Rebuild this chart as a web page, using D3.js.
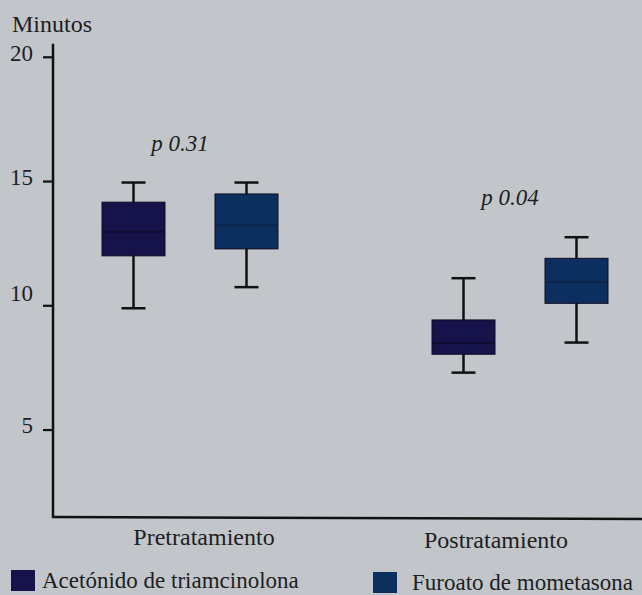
<!DOCTYPE html>
<html>
<head>
<meta charset="utf-8">
<script src="https://cdn.jsdelivr.net/npm/d3@7"></script>
</head>
<body style="margin:0; background:#c2c6cb">
<script>
// Data
const groups = ['Pretratamiento', 'Postratamiento'];
const series = ['Acetónido de triamcinolona', 'Furoato de mometasona'];
const colors = ['#16134a', '#0c2f5f'];
const medianColors = ['#0e0c33', '#0a2549'];
// [min, q1, median, q3, max] per group, per series
const acetonido = [[9.9, 12.01, 12.98, 14.17, 14.96], [7.31, 8.05, 8.5, 9.43, 11.11]];
const furoato = [[10.75, 12.29, 13.24, 14.5, 14.96], [8.52, 10.1, 10.96, 11.91, 12.76]];
const pValues = ['p 0.31', 'p 0.04'];
const yTicks = [5, 10, 15, 20];

// Constants
const width = 642;
const height = 595;
const labelShift = [14, -24];
const labelBaseline = [545, 548];

const svg = d3.select('body')
    .append('svg')
    .attr('width', width)
    .attr('height', height)
    .style('display', 'block');

// Serif text helper
function serifText(sel, size, italic) {
    return sel
        .style('font', `${italic ? 'italic ' : ''}${size}px "Liberation Serif", "Times New Roman", Tinos, serif`)
        .style('fill', '#1e1e1e');
}

// Scales
const y = d3.scaleLinear().domain([1.5, 20]).range([517, 57.3]);
const x = d3.scalePoint().domain(groups).range([190, 520]);
const xInner = d3.scaleBand().domain(series).range([-88, 88]).paddingInner(0.4425);

// Y axis
svg.append('line')
    .attr('x1', 53).attr('x2', 53)
    .attr('y1', y(20.55)).attr('y2', y(1.5) + 1)
    .attr('stroke', '#111').attr('stroke-width', 2.5);

const tick = svg.append('g').selectAll('g')
    .data(yTicks)
    .join('g')
    .attr('transform', d => `translate(0,${y(d)})`);
tick.append('line')
    .attr('x1', 43).attr('x2', 53)
    .attr('stroke', '#111').attr('stroke-width', 2.2);
serifText(tick.append('text'), 23)
    .attr('x', 33)
    .attr('dy', d => d === 10 ? '-0.2em' : '0.15em')
    .attr('text-anchor', 'end')
    .text(d => d);

serifText(svg.append('text'), 24)
    .attr('x', 12).attr('y', 32)
    .text('Minutos');

// X axis
svg.append('line')
    .attr('x1', 52).attr('x2', width)
    .attr('y1', y(1.5)).attr('y2', y(1.5) + 2)
    .attr('stroke', '#111').attr('stroke-width', 2.5);

serifText(svg.append('g').selectAll('text').data(groups).join('text'), 24)
    .attr('x', (d, i) => x(d) + labelShift[i])
    .attr('y', (d, i) => labelBaseline[i])
    .attr('text-anchor', 'middle')
    .text(d => d);

// Boxes
const boxes = [];
groups.forEach((g, gi) => {
    [acetonido, furoato].forEach((s, si) => {
        boxes.push({ group: g, series: series[si], si, stats: s[gi] });
    });
});

const box = svg.append('g').selectAll('g')
    .data(boxes)
    .join('g')
    .attr('transform', d => `translate(${x(d.group) + xInner(d.series)},0)`);

const bw = xInner.bandwidth();
const cx = bw / 2;

box.append('line')
    .attr('x1', cx).attr('x2', cx)
    .attr('y1', d => y(d.stats[0])).attr('y2', d => y(d.stats[4]))
    .attr('stroke', '#111').attr('stroke-width', 2.5);
box.selectAll('line.cap')
    .data(d => [d.stats[0], d.stats[4]])
    .join('line')
    .attr('class', 'cap')
    .attr('x1', cx - 12).attr('x2', cx + 12)
    .attr('y1', d => y(d)).attr('y2', d => y(d))
    .attr('stroke', '#111').attr('stroke-width', 2.5);
box.append('rect')
    .attr('x', 0)
    .attr('width', bw)
    .attr('y', d => y(d.stats[3]))
    .attr('height', d => y(d.stats[1]) - y(d.stats[3]))
    .attr('fill', d => colors[d.si])
    .attr('stroke', '#0c0c22')
    .attr('stroke-width', 1);
box.append('line')
    .attr('x1', 1).attr('x2', bw - 1)
    .attr('y1', d => y(d.stats[2])).attr('y2', d => y(d.stats[2]))
    .attr('stroke', d => medianColors[d.si]).attr('stroke-width', 2);

// p values
serifText(svg.append('g').selectAll('text').data(groups).join('text'), 23, true)
    .attr('x', d => x(d) - 10)
    .attr('y', (d, i) => y(d3.max([acetonido[i][4], furoato[i][4]])) - 32)
    .attr('text-anchor', 'middle')
    .text((d, i) => pValues[i]);

// Legend
const legendX = [11, 373];
const legend = svg.append('g').selectAll('g')
    .data(series)
    .join('g')
    .attr('transform', (d, i) => `translate(${legendX[i]},${570 + i * 2})`);
legend.append('rect')
    .attr('width', 24).attr('height', 21)
    .attr('fill', (d, i) => colors[i]);
serifText(legend.append('text'), 23)
    .attr('x', (d, i) => i === 0 ? 31 : 39)
    .attr('y', 18)
    .text(d => d);
</script>
</body>
</html>
